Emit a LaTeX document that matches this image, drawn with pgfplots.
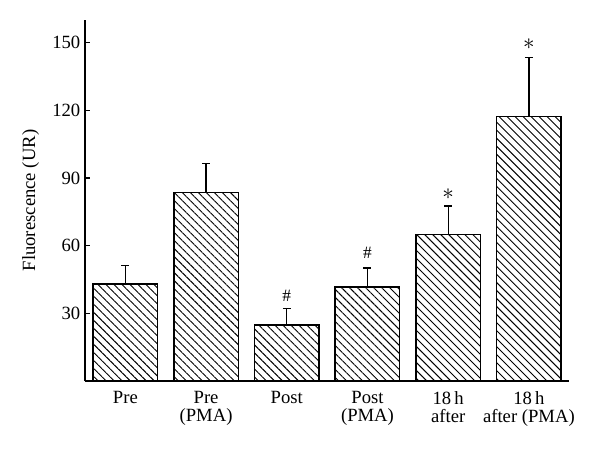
\documentclass[border=0pt]{standalone}
\usepackage{fontspec}
\setmainfont{Liberation Serif}
\usepackage{pgfplots}
\pgfplotsset{compat=1.18}
\usetikzlibrary{patterns.meta}
\begin{document}
\begin{tikzpicture}
\begin{axis}[
  scale only axis, width=363.2pt, height=270.75pt,
  xmin=-0.5, xmax=5.5, ymin=0, ymax=160,
  axis lines=left, axis line style={-, line width=1pt, black},
  ytick={30,60,90,120,150},
  xtick={0,...,5},
  xticklabels={Pre, Pre\\(PMA), Post, Post\\(PMA), 18\,h\\after, 18\,h\\after (PMA)},
  xticklabel style={align=center, font=\fontsize{14}{13.5}\selectfont},
  yticklabel style={font=\fontsize{14}{14}\selectfont},
  x tick style={draw=none},
  y tick style={line width=1pt, black},
  tick align=inside,
  major tick length=4pt,
  ylabel={Fluorescence (UR)},
  ylabel style={font=\fontsize{14}{14}\selectfont, at={(axis description cs:-0.1125,0.5)}, anchor=center},
  /pgf/number format/assume math mode=true,
  ybar, bar width=48.4pt,
]
\addplot[draw=black, line width=1.1pt,
  pattern={Lines[angle=-45,distance=4.25pt,line width=0.7pt]},
  error bars/.cd, y dir=plus, y explicit,
  error bar style={line width=1pt, black},
  error mark options={rotate=90, line width=1pt, mark size=3pt, black}]
  table[x=x, y=y, y error=e] {
  x y e
  0 42.9 8.4
  1 83.5 12.8
  2 24.8 7.4
  3 41.7 8.4
  4 65.0 12.6
  5 117.3 26.2
  };
\node[font=\fontsize{13}{13}\selectfont, inner sep=0pt] at (axis cs:2,37.6) {\#};
\node[font=\fontsize{13}{13}\selectfont, inner sep=0pt] at (axis cs:3,56.7) {\#};
\node[font=\fontsize{17}{17}\selectfont, inner sep=0pt] at (axis cs:4,82.8) {$\ast$};
\node[font=\fontsize{17}{17}\selectfont, inner sep=0pt] at (axis cs:5,149.2) {$\ast$};
\end{axis}
\path ([shift={(-63.75pt,-52.5pt)}]current axis.south west) rectangle ([shift={(386.25pt,285.75pt)}]current axis.south west);
\end{tikzpicture}
\end{document}
